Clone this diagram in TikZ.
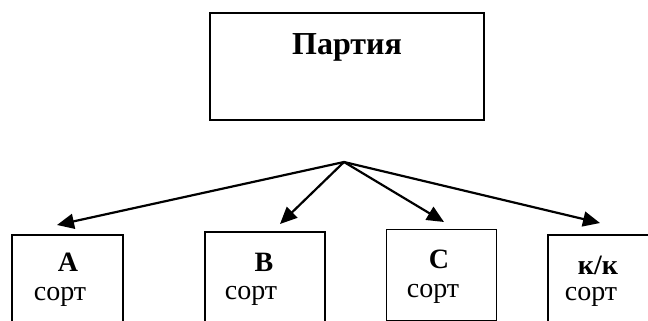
\documentclass[tikz,border=0pt]{standalone}
\usepackage{fontspec}
\setmainfont{Liberation Serif}
\usetikzlibrary{arrows.meta}
\begin{document}
\begin{tikzpicture}[x=1pt,y=-1pt,
  box/.style={draw=black,line width=2.2pt,fill=none,inner sep=0pt},
  thinbox/.style={draw=black,line width=1.4pt,fill=none,inner sep=0pt},
  arr/.style={line width=2.2pt,-{Triangle[length=17pt,width=15pt]}},
  big/.style={font=\fontsize{32}{36}\selectfont\bfseries,inner sep=0pt},
  hd/.style={font=\fontsize{28}{30}\selectfont\bfseries,inner sep=0pt},
  srt/.style={font=\fontsize{28}{30}\selectfont,inner sep=0pt}]
\useasboundingbox (0,0) rectangle (648,321);
\clip (0,0) rectangle (648,321);
% top box
\node[box,minimum width=274pt,minimum height=107pt] (party) at (347,66.5) {};
\node[big] (partytxt) at (347,47) {Партия};
% hub and tips
\coordinate (hub) at (344,162);
\coordinate (tipA) at (57,225);
\coordinate (tipB) at (280,224);
\coordinate (tipC) at (444,222);
\coordinate (tipK) at (600,223);
% bottom boxes
\node[box,minimum width=111pt,minimum height=120pt,anchor=north west] (boxA) at (11,234) {};
\node[box,minimum width=120pt,minimum height=120pt,anchor=north west] (boxB) at (204,231) {};
\node[thinbox,minimum width=110pt,minimum height=91pt,anchor=north west] (boxC) at (386,229) {};
\node[box,minimum width=120pt,minimum height=120pt,anchor=north west] (boxK) at (547,234) {};
% texts
\node[hd] (tA) at (68,262) {A};
\node[srt] (sA) at (60,297) {сорт};
\node[hd] (tB) at (264,262) {B};
\node[srt] (sB) at (251,296) {сорт};
\node[hd] (tC) at (439,259) {C};
\node[srt] (sC) at (433,294) {сорт};
\node[hd] (tK) at (598,265) {к/к};
\node[srt] (sK) at (591,297) {сорт};
% arrows
\draw[arr] (hub) -- (tipA);
\draw[arr] (hub) -- (tipB);
\draw[arr] (hub) -- (tipC);
\draw[arr] (hub) -- (tipK);
\end{tikzpicture}
\end{document}
